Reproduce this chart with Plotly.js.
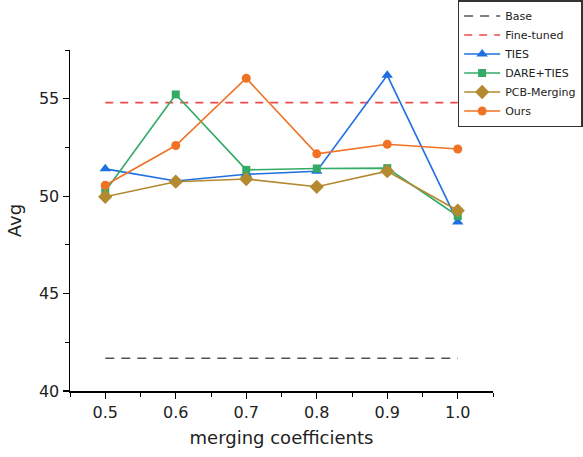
<!DOCTYPE html>
<html><head><meta charset="utf-8">
<script src="https://cdn.plot.ly/plotly-3.0.1.min.js"></script>
<style>body{margin:0;background:#fff}#c{width:583px;height:457px}</style>
</head><body><div id="c"></div>
<script>
const coeffs = [0.5, 0.6, 0.7, 0.8, 0.9, 1.0];
const baseVal = 41.68;
const fineTunedVal = 54.8;
const ties = [51.4, 50.78, 51.12, 51.28, 56.2, 48.67];
const dareTies = [50.25, 55.22, 51.35, 51.42, 51.44, 48.98];
const pcbMerging = [49.97, 50.74, 50.88, 50.48, 51.28, 49.26];
const ours = [50.56, 52.6, 56.05, 52.17, 52.66, 52.42];
const xTicks = [0.5, 0.6, 0.7, 0.8, 0.9, 1.0];
const xTickText = ['0.5', '0.6', '0.7', '0.8', '0.9', '1.0'];
const yTicks = [40, 45, 50, 55];

const lineSeries = (name, y, color, symbol, size) => ({
  x: coeffs, y: y, name: name, type: 'scatter', mode: 'lines+markers',
  line: {color: color, width: 1.6},
  marker: {symbol: symbol, size: size, color: color}
});
const traces = [
  {x: [coeffs[0], coeffs[coeffs.length-1]], y: [baseVal, baseVal], name: 'Base', mode: 'lines',
   line: {color: '#555555', width: 1.4, dash: '9px,7px'}},
  {x: [coeffs[0], coeffs[coeffs.length-1]], y: [fineTunedVal, fineTunedVal], name: 'Fine-tuned', mode: 'lines',
   line: {color: '#ee4a4a', width: 1.6, dash: '8px,7px'}},
  lineSeries('TIES', ties, '#1f6fe0', 'triangle-up', 10),
  lineSeries('DARE+TIES', dareTies, '#33aa66', 'square', 8),
  lineSeries('PCB-Merging', pcbMerging, '#b48a30', 'diamond', 11),
  lineSeries('Ours', ours, '#f07325', 'circle', 9)
];
const font = 'DejaVu Sans, sans-serif';
const layout = {
  width: 583, height: 457,
  margin: {l: 70, r: 90, t: 50, b: 66, autoexpand: false},
  paper_bgcolor: '#fff', plot_bgcolor: '#fff',
  font: {family: font, color: '#222', size: 16},
  showlegend: true,
  legend: {xref: 'container', yref: 'container', x: 0.785, y: 1.0, xanchor: 'left', yanchor: 'top',
    bgcolor: '#fff', bordercolor: '#333', borderwidth: 1.5, itemwidth: 36,
    font: {size: 11, family: font, color: '#222'}, tracegroupgap: 0},
  xaxis: {range: [0.45, 1.05], tickvals: xTicks, ticktext: xTickText, automargin: false,
    showgrid: false, zeroline: false, showline: true, linecolor: '#000', linewidth: 1.5,
    ticks: 'outside', ticklen: 6, tickwidth: 1.2, tickcolor: '#000',
    minor: {dtick: 0.05, tick0: 0.45, ticks: 'outside', ticklen: 4, tickcolor: '#000', tickwidth: 1},
    tickfont: {size: 16},
    title: {text: 'merging coefficients', font: {size: 18}, standoff: 10}},
  yaxis: {range: [40, 57.5], tickvals: yTicks, automargin: false,
    showgrid: false, zeroline: false, showline: true, linecolor: '#000', linewidth: 1.5,
    ticks: 'outside', ticklen: 6, tickwidth: 1.2, tickcolor: '#000',
    minor: {dtick: 2.5, tick0: 40, ticks: 'outside', ticklen: 4, tickcolor: '#000', tickwidth: 1},
    tickfont: {size: 16},
    title: {text: 'Avg', font: {size: 18}, standoff: 12}}
};
Plotly.newPlot('c', traces, layout, {displayModeBar: false, staticPlot: true});
</script></body></html>
